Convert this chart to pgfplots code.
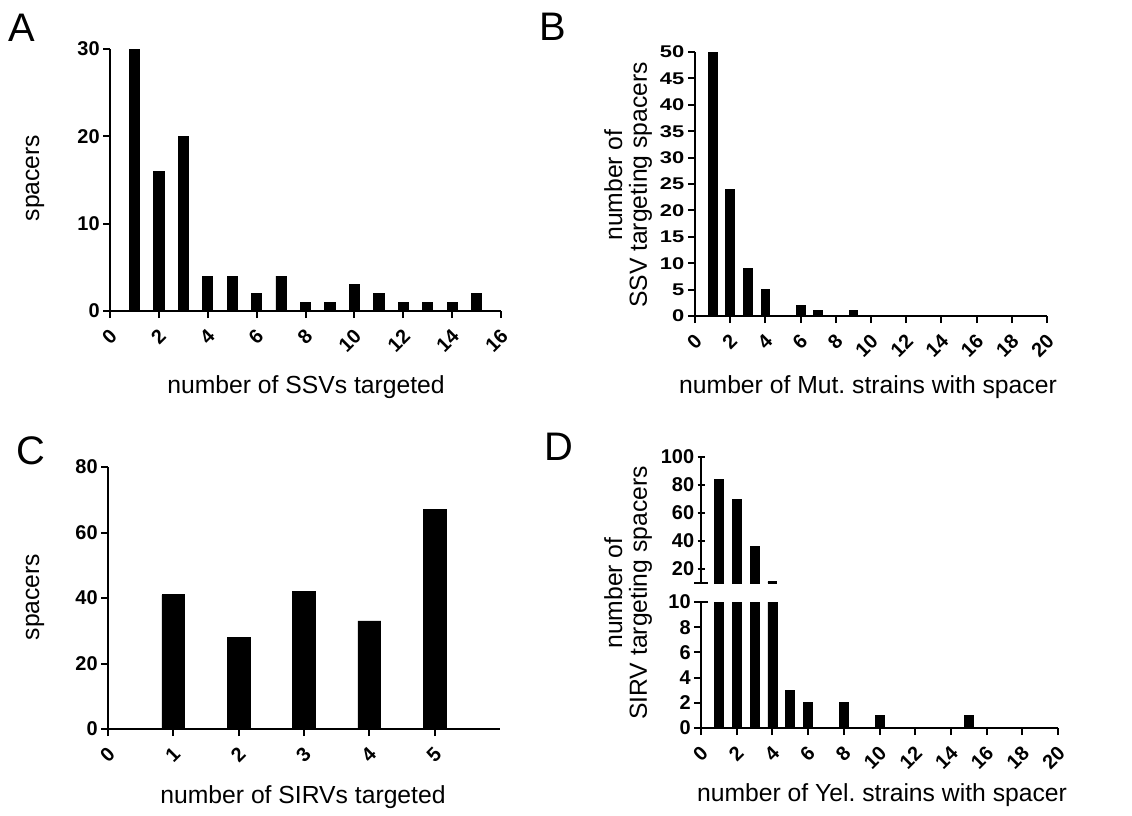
\documentclass[border=0pt]{standalone}
\usepackage{fontspec}
\setmainfont{Liberation Sans}
\usepackage{pgfplots}
\pgfplotsset{compat=1.18}

\pgfplotsset{
  gp/.style={
    scale only axis,
    axis lines=left,
    axis line style={-, line width=1bp},
    tick align=outside,
    major tick length=3.5bp,
    major tick style={black, line width=1bp},
    tick label style={font=\fontsize{10}{11}\selectfont\bfseries},
    yticklabel style={inner sep=1.5bp},
    /pgf/number format/assume math mode=true,
    xmin=0, ymin=0,
    anchor=south west,
  },
  xrot/.style={x tick label style={xshift=2.5bp, yshift=-6.5bp, rotate=45, anchor=east, inner sep=1bp}},
  bars/.style={ybar, bar width=#1, fill=black, draw=black, line width=0.4bp},
}
\newcommand\lab{\fontsize{12.4}{12.4}\selectfont}

\begin{document}
\begin{tikzpicture}[x=0.5bp, y=-0.5bp]
\useasboundingbox (0,0) rectangle (1132,815);

% A
\begin{axis}[gp, xrot, at={(55bp,-155.5bp)}, width=195.5bp, height=131bp,
  xmax=16, ymax=30, xtick={0,2,...,16}, ytick={0,10,20,30}]
\addplot[bars=0.42] coordinates {(1,30) (2,16) (3,20) (4,4) (5,4) (6,2) (7,4) (8,1)
  (9,1) (10,3) (11,2) (12,1) (13,1) (14,1) (15,2)};
\end{axis}

% B
\begin{axis}[gp, xrot, at={(347.5bp,-158bp)}, width=176bp, height=132bp,
  xmax=20, ymax=50, xtick={0,2,...,20}, ytick={0,5,...,50},
  yticklabel style={yscale=0.85, xscale=1.1}]
\addplot[bars=0.5] coordinates {(1,50) (2,24) (3,9) (4,5) (6,2) (7,1) (9,1)};
\end{axis}

% C
\begin{axis}[gp, xrot, at={(54bp,-364.5bp)}, width=196bp, height=131bp,
  xmax=6, ymax=80, xtick={0,...,5}, ytick={0,20,...,80}]
\addplot[bars=0.35] coordinates {(1,41) (2,28) (3,42) (4,33) (5,67)};
\end{axis}

% D lower part
\begin{axis}[gp, xrot, name=Dl, at={(350.5bp,-364bp)}, width=178.5bp, height=63bp,
  xmax=20, ymax=10, xtick={0,2,...,20}, ytick={0,2,...,10}]
\addplot[bars=0.5] coordinates {(1,84) (2,70) (3,36) (4,11) (5,3) (6,2) (8,2) (10,1) (15,1)};
\end{axis}

% D upper part (only the values above the break)
\begin{axis}[gp, name=Du, at={(350.5bp,-291.5bp)}, width=178.5bp, height=63bp,
  axis x line=none, axis y line=left, y axis line style={-},
  xmax=20, ymin=10, ymax=100, xtick=\empty, ytick={20,40,...,100}]
\addplot[bars=0.5] coordinates {(1,84) (2,70) (3,36) (4,11)};
\end{axis}
\draw[line width=1bp] ([xshift=-3.5bp]Du.south west) -- ([xshift=3.5bp]Du.south west);
\draw[line width=1bp] ([xshift=-3.5bp]Dl.north west) -- ([xshift=3.5bp]Dl.north west);

% axis titles
\node[font=\lab] at (306,387) {number of SSVs targeted};
\node[font=\lab] at (868,387) {number of Mut.\ strains with spacer};
\node[font=\lab] at (303,797) {number of SIRVs targeted};
\node[font=\lab] at (882,795) {number of Yel.\ strains with spacer};
\node[font=\lab, rotate=90] at (35,178) {spacers};
\node[font=\lab, rotate=90] at (35,597) {spacers};
\node[font=\lab, rotate=90, align=center] at (628,185) {number of\\SSV targeting spacers};
\node[font=\lab, rotate=90, align=center] at (628,593) {number of\\SIRV targeting spacers};

% panel letters
\node[font=\fontsize{20}{20}\selectfont] at (22,28) {A};
\node[font=\fontsize{20}{20}\selectfont] at (553,27) {B};
\node[font=\fontsize{20}{20}\selectfont] at (31,451) {C};
\node[font=\fontsize{20}{20}\selectfont] at (559,447) {D};
\end{tikzpicture}
\end{document}
